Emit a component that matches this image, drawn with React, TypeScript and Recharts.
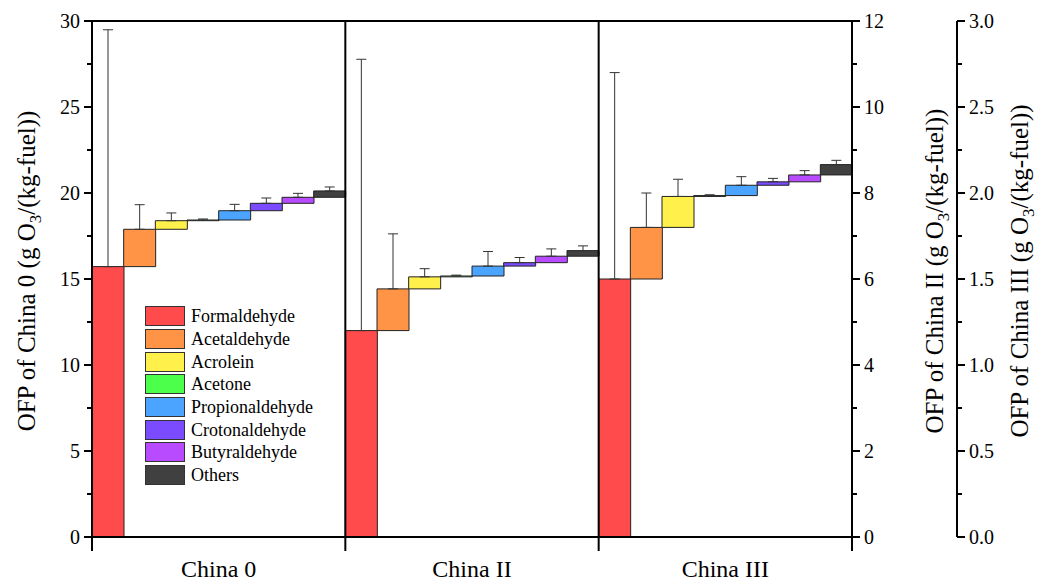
import React from "react";
import {
  ComposedChart,
  Bar,
  Cell,
  XAxis,
  YAxis,
  ErrorBar,
  ReferenceLine,
  Legend,
} from "recharts";

const FONT = "'Times New Roman', 'Liberation Serif', 'DejaVu Serif', serif";

const stages = ["China 0", "China II", "China III"];
const compounds = [
  "Formaldehyde",
  "Acetaldehyde",
  "Acrolein",
  "Acetone",
  "Propionaldehyde",
  "Crotonaldehyde",
  "Butyraldehyde",
  "Others",
];
const colors = ["#ff4b4b", "#ff9447", "#fff04b", "#4bff4b", "#4ba4ff", "#7b4bff", "#b84bff", "#404040"];

// OFP contribution of each compound (waterfall steps), g O3 / kg fuel
const china0Ofp = [15.72, 2.17, 0.5, 0.04, 0.54, 0.43, 0.35, 0.37];
const china2Ofp = [4.8, 0.97, 0.28, 0.02, 0.23, 0.08, 0.15, 0.13];
const china3Ofp = [1.5, 0.3, 0.18, 0.005, 0.06, 0.02, 0.04, 0.06];

// upper error (sd)
const china0Err = [13.77, 1.43, 0.45, 0.06, 0.37, 0.31, 0.23, 0.23];
const china2Err = [6.31, 1.28, 0.19, 0.02, 0.34, 0.12, 0.17, 0.11];
const china3Err = [1.2, 0.2, 0.1, 0.005, 0.05, 0.02, 0.025, 0.025];

const ticks0 = [0, 2.5, 5, 7.5, 10, 12.5, 15, 17.5, 20, 22.5, 25, 27.5, 30];
const ticks2 = [0, 1, 2, 3, 4, 5, 6, 7, 8, 9, 10, 11, 12];
const ticks3 = [0, 0.25, 0.5, 0.75, 1, 1.25, 1.5, 1.75, 2, 2.25, 2.5, 2.75, 3];

const stageValues = [china0Ofp, china2Ofp, china3Ofp];
const stageErrors = [china0Err, china2Err, china3Err];

const data: any[] = [];
stageValues.forEach((vals, s) => {
  let start = 0;
  vals.forEach((v, i) => {
    const row: any = { key: `${stages[s]}-${compounds[i]}`, stage: s, compound: i };
    row[`r${s}`] = [start, start + v];
    row[`e${s}`] = [0, stageErrors[s][i]];
    start += v;
    data.push(row);
  });
});

const StageTick = (props: any) => {
  const { x, y, payload } = props;
  const idx = payload.index;
  const half = payload.offset || 0;
  if (idx % 8 !== 0 && idx !== data.length - 1) return null;
  return (
    <g>
      {idx % 8 === 0 && (
        <>
          <line x1={x - half} x2={x - half} y1={y} y2={y + 14} stroke="#000" strokeWidth={2} />
          <text x={x - half + 8 * half} y={y + 40} textAnchor="middle" fontSize={24} fontFamily={FONT} fill="#000">
            {stages[data[idx].stage]}
          </text>
        </>
      )}
      {idx === data.length - 1 && (
        <line x1={x + half} x2={x + half} y1={y} y2={y + 14} stroke="#000" strokeWidth={2} />
      )}
    </g>
  );
};

const YTick = (props: any) => {
  const { x, y, payload, side, step, digits } = props;
  const v = payload.value;
  const major = Math.abs(v / step - Math.round(v / step)) < 1e-6;
  const dir = side === "left" ? -1 : 1;
  const len = major ? 8 : 5;
  return (
    <g>
      <line x1={x} x2={x + dir * len} y1={y} y2={y} stroke="#000" strokeWidth={2} />
      {major && (
        <text
          x={x + dir * 12}
          y={y}
          dy="0.35em"
          textAnchor={side === "left" ? "end" : "start"}
          fontSize={20}
          fontFamily={FONT}
          fill="#000"
        >
          {v.toFixed(digits)}
        </text>
      )}
    </g>
  );
};

const AxisTitle = (props: any) => {
  const { viewBox, stage, dx } = props;
  const cx = viewBox.x + dx;
  const cy = viewBox.y + viewBox.height / 2 - 8;
  return (
    <text
      x={cx}
      y={cy}
      dy="0.35em"
      textAnchor="middle"
      transform={`rotate(-90, ${cx}, ${cy})`}
      fontSize={25}
      fontFamily={FONT}
      fill="#000"
    >
      {`OFP of ${stage} (g O`}
      <tspan dy={6} fontSize={17}>3</tspan>
      <tspan dy={-6}>/(kg-fuel))</tspan>
    </text>
  );
};

const CompoundLegend = () => (
  <div style={{ fontFamily: FONT, fontSize: 18, color: "#000" }}>
    {compounds.map((c, i) => (
      <div key={c} style={{ display: "flex", alignItems: "center", height: 22.7 }}>
        <div
          style={{
            width: 40,
            height: 20,
            boxSizing: "border-box",
            border: "1.5px solid #333",
            background: colors[i],
          }}
        />
        <span style={{ marginLeft: 6, lineHeight: "20px", fontFamily: FONT }}>{c}</span>
      </div>
    ))}
  </div>
);

const axisLine = { stroke: "#000", strokeWidth: 2 };

export default function App() {
  return (
    <div style={{ position: "absolute", left: 0, top: 0, width: 1037, height: 583, background: "#fff" }}>
      <ComposedChart
        width={1037}
        height={583}
        data={data}
        margin={{ top: 21, right: 0, bottom: 0, left: 0 }}
        barCategoryGap={0}
        barGap={0}
      >
        <XAxis
          xAxisId="x0"
          dataKey="key"
          type="category"
          height={46}
          interval={0}
          tickSize={0}
          tickMargin={0}
          tickLine={false}
          axisLine={axisLine}
          tick={<StageTick />}
        />
        <XAxis xAxisId="x1" dataKey="key" type="category" hide />
        <XAxis xAxisId="x2" dataKey="key" type="category" hide />
        <YAxis
          yAxisId="a"
          orientation="left"
          width={92}
          domain={[0, 30]}
          allowDataOverflow
          ticks={ticks0}
          interval={0}
          tickSize={0}
          tickMargin={0}
          tickLine={false}
          axisLine={axisLine}
          tick={<YTick side="left" step={5} digits={0} />}
          label={<AxisTitle stage="China 0" dx={26} />}
        />
        <YAxis
          yAxisId="b"
          orientation="right"
          width={105}
          domain={[0, 12]}
          allowDataOverflow
          ticks={ticks2}
          interval={0}
          tickSize={0}
          tickMargin={0}
          tickLine={false}
          axisLine={axisLine}
          tick={<YTick side="right" step={2} digits={0} />}
          label={<AxisTitle stage="China II" dx={82} />}
        />
        <YAxis
          yAxisId="c"
          orientation="right"
          width={80}
          domain={[0, 3]}
          allowDataOverflow
          ticks={ticks3}
          interval={0}
          tickSize={0}
          tickMargin={0}
          tickLine={false}
          axisLine={axisLine}
          tick={<YTick side="right" step={0.5} digits={1} />}
          label={<AxisTitle stage="China III" dx={62} />}
        />
        {stages.map((st, s) => (
          <Bar
            key={st}
            xAxisId={`x${s}`}
            yAxisId={["a", "b", "c"][s]}
            dataKey={`r${s}`}
            stroke="#222"
            strokeWidth={1}
            isAnimationActive={false}
          >
            {data.map((d, i) => (
              <Cell key={i} fill={colors[d.compound]} />
            ))}
            <ErrorBar dataKey={`e${s}`} width={5} stroke="#333" strokeWidth={1} direction="y" isAnimationActive={false} />
          </Bar>
        ))}
        <ReferenceLine xAxisId="x0" yAxisId="a" y={30} stroke="#000" strokeWidth={2} />
        <ReferenceLine xAxisId="x0" yAxisId="a" x={data[8].key} position="start" stroke="#000" strokeWidth={2} />
        <ReferenceLine xAxisId="x0" yAxisId="a" x={data[16].key} position="start" stroke="#000" strokeWidth={2} />
        <Legend
          layout="vertical"
          align="center"
          verticalAlign="middle"
          content={<CompoundLegend />}
          wrapperStyle={{ left: 145, top: 305, width: 220 }}
        />
      </ComposedChart>
    </div>
  );
}
